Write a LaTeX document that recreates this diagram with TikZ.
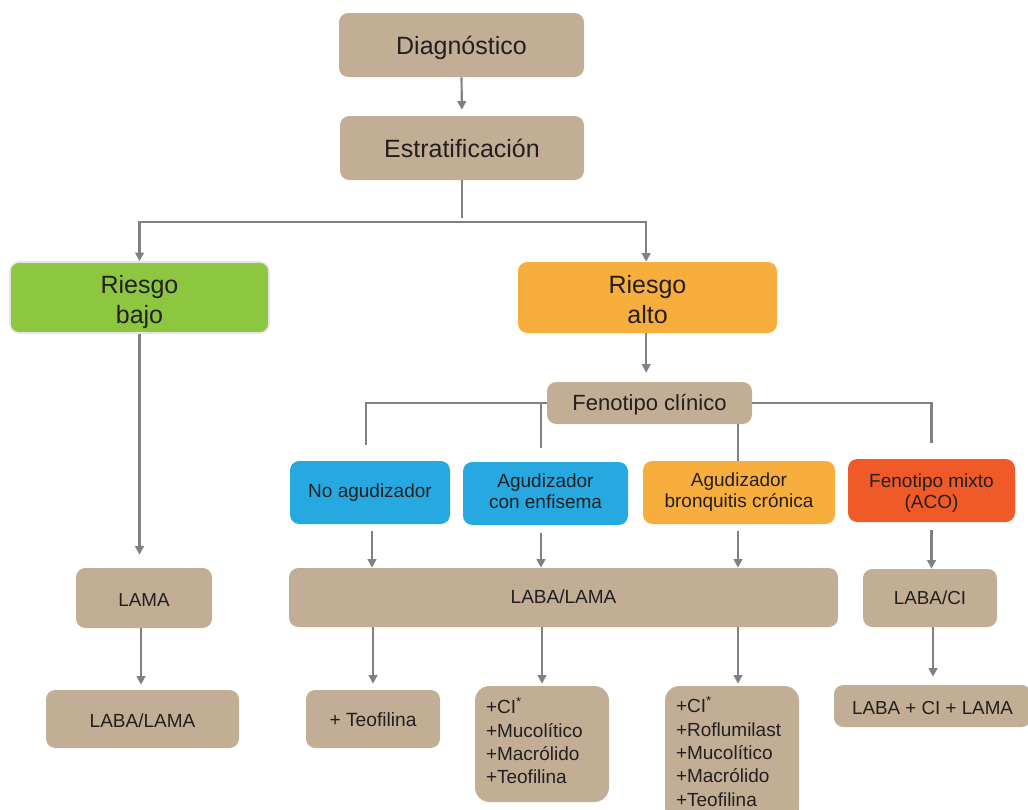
\documentclass[tikz,border=0pt]{standalone}
\usepackage{fontspec}
\setmainfont{Liberation Sans}
\usetikzlibrary{arrows.meta,calc}
\definecolor{tanbox}{HTML}{C2AE95}
\definecolor{greenbox}{HTML}{8DC63F}
\definecolor{orangebox}{HTML}{F7AE3D}
\definecolor{bluebox}{HTML}{25A9E0}
\definecolor{redbox}{HTML}{F05A28}
\definecolor{txt}{HTML}{231F20}
\definecolor{gr}{HTML}{808184}
\newcommand\nodetxt[3]{\raisebox{-#1}[\height][\depth]{\begin{tabular}{@{}#2@{}}#3\end{tabular}}}
\newcommand\nodelist[2]{\raisebox{-#1}[\height][\depth]{\makebox[84pt][l]{\begin{tabular}{@{}l@{}}#2\end{tabular}}}}
\begin{document}
\begin{tikzpicture}[x=0.75pt,y=-0.75pt,
  box/.style={rectangle, rounded corners=7pt, fill=tanbox, text=txt, inner sep=0pt},
  ln/.style={draw=gr, line width=1.6pt},
  arr/.style={ln, -{Triangle[width=6.5pt,length=6.5pt]}},
  fbig/.style={font=\fontsize{18.75}{22.5}\selectfont},
  fmed/.style={font=\fontsize{16.5}{19}\selectfont},
  fphen/.style={font=\fontsize{14.25}{15.75}\selectfont},
  fsmall/.style={font=\fontsize{14.1}{16}\selectfont},
  flist/.style={font=\fontsize{14.25}{17.5}\selectfont},
  listbox/.style={box, rounded corners=11pt, minimum width=100.5pt}
]
\useasboundingbox (0,0) rectangle (1028,810);
\clip (0,0) rectangle (1028,810);

% top
\node[box,fbig,minimum width=183.75pt,minimum height=48pt] (diag) at (461.5,45) {\nodetxt{2.6pt}{c}{Diagnóstico}};
\node[box,fbig,minimum width=183pt,minimum height=48pt] (estrat) at (462,148) {\nodetxt{2.4pt}{c}{Estratificación}};

% risk
\node[box,fbig,fill=greenbox,draw=black!10,line width=1.2pt,minimum width=194.25pt,minimum height=53.25pt] (bajo) at (139.5,297.5) {\nodetxt{3.6pt}{c}{Riesgo\\bajo}};
\node[box,fbig,fill=orangebox,minimum width=194.25pt,minimum height=53.25pt] (alto) at (647.5,297.5) {\nodetxt{3.6pt}{c}{Riesgo\\alto}};

% phenotype
\node[box,fmed,minimum width=153.75pt,minimum height=31.5pt] (feno) at (649.5,403) {\nodetxt{1.5pt}{c}{Fenotipo clínico}};
\node[box,fphen,fill=bluebox,minimum width=120pt,minimum height=47.25pt] (noag) at (370,492.5) {\nodetxt{0.6pt}{c}{No agudizador}};
\node[box,fphen,fill=bluebox,minimum width=123.75pt,minimum height=47.25pt] (enf) at (545.5,493.5) {\nodetxt{0pt}{c}{Agudizador\\con enfisema}};
\node[box,fphen,fill=orangebox,minimum width=144pt,minimum height=47.25pt] (bron) at (739,492.5) {\nodetxt{0.5pt}{c}{Agudizador\\bronquitis crónica}};
\node[box,fphen,fill=redbox,minimum width=125.25pt,minimum height=47.25pt] (mixto) at (931.5,490.5) {\nodetxt{2.1pt}{c}{Fenotipo mixto\\(ACO)}};

% treatments
\node[box,fsmall,minimum width=102pt,minimum height=45pt] (lama) at (144,598) {\nodetxt{2.8pt}{c}{LAMA}};
\node[box,font=\fontsize{14.25}{16}\selectfont,minimum width=411.75pt,minimum height=44.25pt] (labalama) at (563.5,597.5) {\nodetxt{1.2pt}{c}{LABA/LAMA}};
\node[box,fsmall,minimum width=100.5pt,minimum height=43.5pt] (labaci) at (930,598) {\nodetxt{2pt}{c}{LABA/CI}};

\node[box,font=\fontsize{14.25}{16}\selectfont,minimum width=144.75pt,minimum height=43.5pt] (lbl2) at (142.5,719) {\nodetxt{2.8pt}{c}{LABA/LAMA}};
\node[box,font=\fontsize{14.4}{16}\selectfont,minimum width=100.5pt,minimum height=43.5pt] (teof) at (373,719) {\nodetxt{2.4pt}{c}{+ Teofilina}};
\node[listbox,flist,minimum height=87pt] (ci1) at (542,744) {\nodelist{0pt}{+CI\textsuperscript{*}\\+Mucolítico\\+Macrólido\\+Teofilina}};
\node[listbox,flist,minimum height=102pt] (ci2) at (732,754) {\nodelist{0.5pt}{+CI\textsuperscript{*}\\+Roflumilast\\+Mucolítico\\+Macrólido\\+Teofilina}};
\node[box,fsmall,minimum width=147.75pt,minimum height=31.5pt] (triple) at (932.5,706) {\nodetxt{2.8pt}{c}{LABA + CI + LAMA}};

% connectors top
\draw[arr,shorten >=4.5pt] (diag.south) -- (estrat.north);
\draw[ln] (estrat.south) -- ++(0,38) coordinate (stem);
\coordinate (split) at (462,222);
\draw[arr] (split) -| (bajo.north);
\draw[arr] (split) -| ([xshift=-1pt]alto.north);

% risk to phenotype
\draw[arr,shorten >=6.75pt] ([xshift=-1pt]alto.south) -- ([xshift=-1pt]alto.south |- feno.north);
\draw[ln,shorten >=12pt] (feno.west) -| ([xshift=-3pt]noag.north);
\draw[ln,shorten >=10.5pt] (feno.west) -| ([xshift=-3.4pt]enf.north);
\draw[ln] ([xshift=-0.75pt]bron.north |- feno.south) -- ([xshift=-0.75pt]bron.north);
\draw[ln,shorten >=12pt] (feno.east) -| (mixto.north);

% phenotype to treatment
\draw[arr,shorten <=5pt] ([xshift=1.5pt]noag.south) -- ([xshift=1.5pt]noag.south |- labalama.north);
\draw[arr,shorten <=6pt] ([xshift=-3.4pt]enf.south) -- ([xshift=-3.4pt]enf.south |- labalama.north);
\draw[arr,shorten <=5pt] ([xshift=-0.75pt]bron.south) -- ([xshift=-0.75pt]bron.south |- labalama.north);
\draw[arr,shorten <=6pt] (mixto.south) -- (mixto.south |- labaci.north);

% low risk
\draw[arr,shorten >=9.75pt] (bajo.south) -- (bajo.south |- lama.north);
\draw[arr,shorten >=3.75pt] ([xshift=-2.25pt]lama.south) -- ([xshift=-2.25pt]lama.south |- lbl2.north);

% second line
\draw[arr,shorten >=4.5pt] (teof.north |- labalama.south) -- (teof.north);
\draw[arr,shorten >=1.5pt] (ci1.north |- labalama.south) -- (ci1.north);
\draw[arr,shorten >=1.5pt] ([xshift=-0.75pt]bron.south |- labalama.south) -- ([xshift=-0.75pt]bron.south |- ci2.north);
\draw[arr,shorten >=6pt] ([xshift=2.25pt]labaci.south) -- ([xshift=2.25pt]labaci.south |- triple.north);
\end{tikzpicture}
\end{document}
